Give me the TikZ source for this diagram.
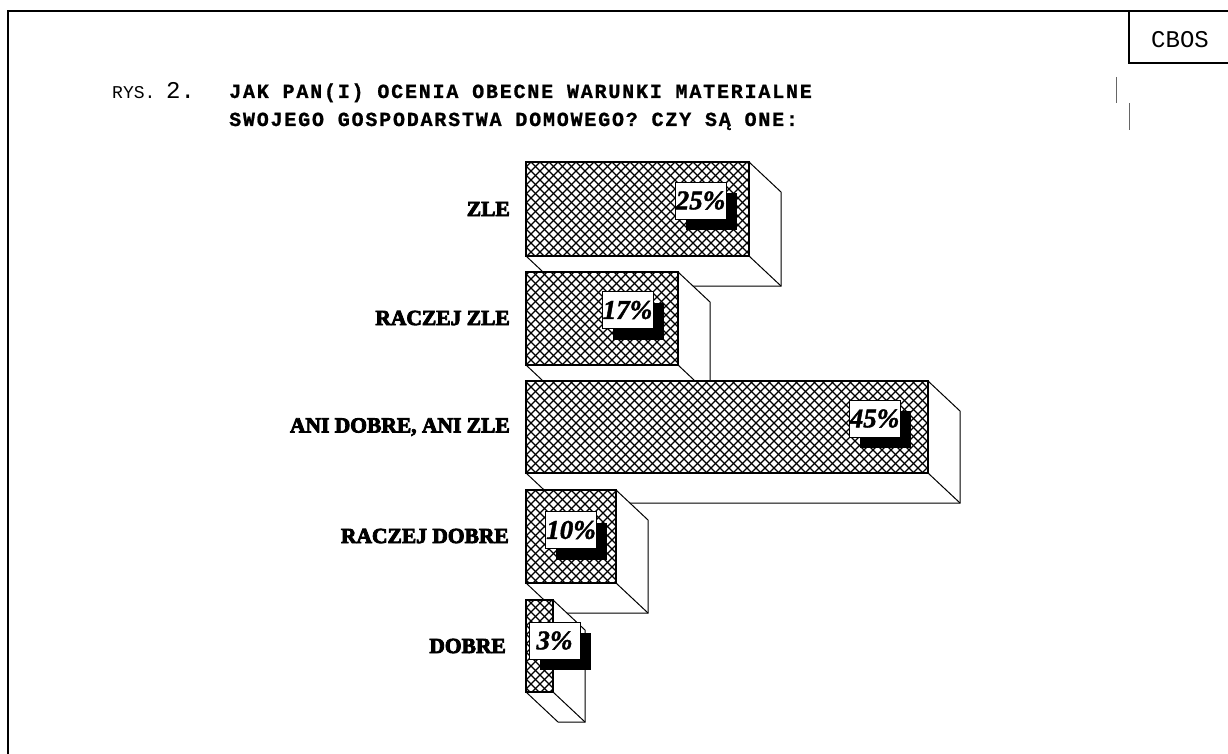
\documentclass[tikz,border=0pt]{standalone}
\usepackage{fontspec}
\usetikzlibrary{shadows}
\newfontfamily\labfont[FakeBold=4]{Liberation Serif Bold}
\newfontfamily\pctfont[FakeBold=1.5]{Liberation Serif Bold Italic}
\newfontfamily\monob[LetterSpace=9,FakeBold=1]{Liberation Mono Bold}
\newfontfamily\monor{Liberation Mono}
\newcommand\mybar[4]{% L T R B
  \fill[white] (#3,#2) -- ++(32,30) -- (#3+32,#4+30) -- (#1+32,#4+30) -- (#1,#4) -- (#3,#4) -- cycle;
  \draw[line width=1pt] (#3,#2) -- ++(32,30) -- (#3+32,#4+30) -- (#1+32,#4+30) -- (#1,#4);
  \draw[line width=1pt] (#3,#4) -- ++(32,30);
  \fill[white] (#1,#2) rectangle (#3,#4);
  \pgfmathtruncatemacro\cs{9*ceil((#1+#2)/9)}
  \pgfmathtruncatemacro\csn{\cs+9}
  \pgfmathtruncatemacro\ce{#3+#4}
  \foreach \c in {\cs,\csn,...,\ce} {
    \pgfmathsetmacro\xa{max(#1,\c-#4)}
    \pgfmathsetmacro\xb{min(#3,\c-#2)}
    \draw[hatch] (\xa,\c-\xa) -- (\xb,\c-\xb);
  }
  \pgfmathtruncatemacro\ds{9*ceil((#1-#4)/9)}
  \pgfmathtruncatemacro\dsn{\ds+9}
  \pgfmathtruncatemacro\de{#3-#2}
  \foreach \c in {\ds,\dsn,...,\de} {
    \pgfmathsetmacro\xa{max(#1,#2+\c)}
    \pgfmathsetmacro\xb{min(#3,#4+\c)}
    \draw[hatch] (\xa,\xa-\c) -- (\xb,\xb-\c);
  }
  \draw[line width=1.4pt] (#1,#2) rectangle (#3,#4);
}
\tikzset{
  hatch/.style={line width=1.1pt,black},
  frame/.style={line width=1.2pt,black},
  cat/.style={anchor=east,inner sep=0pt,font=\labfont\fontsize{21.5}{21.5}\selectfont},
  pct/.style={draw=black,fill=white,line width=0.8pt,minimum width=51pt,minimum height=37pt,inner sep=0pt,
    font=\pctfont\fontsize{27}{27}\selectfont,
    general shadow={fill=black,shadow xshift=10.5pt,shadow yshift=-11pt}},
  ttl/.style={anchor=base west,inner sep=0pt,font=\monob\fontsize{20}{20}\selectfont},
}
\begin{document}
\begin{tikzpicture}[x=1pt,y=-1pt]
\useasboundingbox (0,0) rectangle (1228,754);
% frame
\draw[frame] (8,754) -- (8,11) -- (1228,11);
\draw[frame] (1129,11) -- (1129,63) -- (1228,63);
\node[font=\monor\fontsize{24}{24}\selectfont,inner sep=0pt] (cbos) at (1180,40) {CBOS};
\draw[line width=1pt,black!60] (1116,77) -- (1116,103);
\draw[line width=1pt,black!60] (1129,103) -- (1129,130);
% title
\node[anchor=base west,inner sep=0pt,font=\monor\fontsize{18}{18}\selectfont] (rys) at (112,99) {RYS.};
\node[anchor=base west,inner sep=0pt,font=\monor\fontsize{24}{24}\selectfont] (nr) at (166,99) {2.};
\node[ttl] (t1) at (229,98) {JAK PAN(I) OCENIA OBECNE WARUNKI MATERIALNE};
\node[ttl] (t2) at (229,126) {SWOJEGO GOSPODARSTWA DOMOWEGO? CZY SĄ ONE:};
% bars
\mybar{526}{162}{749}{256}
\mybar{526}{272}{678}{365}
\mybar{526}{381}{928}{473}
\mybar{526}{490}{616}{583}
\mybar{526}{600}{553}{692}
% category labels
\node[cat] (c1) at (510,209) {ZLE};
\node[cat] (c2) at (510,318) {RACZEJ ZLE};
\node[cat] (c3) at (510,427) {ANI DOBRE, ANI ZLE};
\node[cat] (c4) at (509,536) {RACZEJ DOBRE};
\node[cat] (c5) at (506,646) {DOBRE};
% percentages
\node[pct] (p1) at (700.5,200.5) {25\%};
\node[pct] (p2) at (627.5,310) {17\%};
\node[pct] (p3) at (874.5,418.5) {45\%};
\node[pct] (p4) at (571,530) {10\%};
\node[pct] (p5) at (554.5,640.5) {3\%};
\end{tikzpicture}
\end{document}
